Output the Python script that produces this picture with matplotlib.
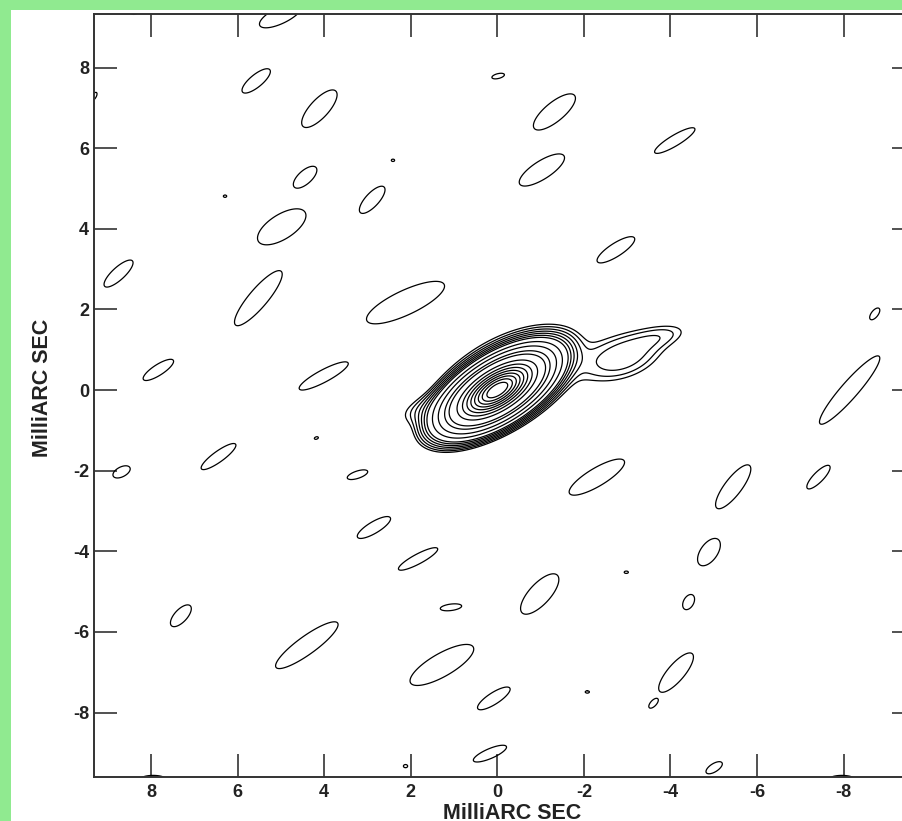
import numpy as np
import matplotlib
matplotlib.use("Agg")
import matplotlib.pyplot as plt
from matplotlib.patches import Rectangle

plt.rcParams["font.family"] = ["Liberation Sans", "DejaVu Sans"]

# ---- sidelobe blobs (single lowest contour): centre [mas], contour semi-axes [mas], screen angle [deg]
lobe_x = [5.00, 5.57, 4.11, -0.02, 4.44, 6.29, 2.41, 2.89, 4.98, 8.75, 5.52, 2.12, 7.83, 4.01,
          9.32, 8.40, -1.32, -4.10, -1.03, -2.74, -8.72, -8.14, -2.07, 4.18, 6.44, 8.68, 3.23,
          2.85, 1.83, 1.07, 7.31, 4.40, 1.28, 0.08, 0.17, 2.12, 7.95, -2.30, -5.45, -7.42,
          -4.89, -2.98, -0.98, -4.42, -4.13, -3.61, -2.08, -5.01, -7.96]
lobe_y = [9.30, 7.67, 6.98, 7.79, 5.28, 4.81, 5.70, 4.72, 4.05, 2.89, 2.28, 2.17, 0.50, 0.35,
          7.28, 9.36, 6.90, 6.19, 5.46, 3.48, 1.89, 0.00, 9.36, -1.19, -1.65, -2.03, -2.10,
          -3.41, -4.19, -5.39, -5.60, -6.33, -6.82, -7.65, -9.02, -9.33, -9.66, -2.16, -2.40, -2.16,
          -4.02, -4.52, -5.06, -5.26, -7.01, -7.77, -7.49, -9.37, -9.66]
lobe_a = [0.55, 0.42, 0.58, 0.15, 0.35, 0.04, 0.04, 0.42, 0.65, 0.45, 0.85, 1.00, 0.42, 0.65,
          0.12, 0.08, 0.62, 0.55, 0.62, 0.52, 0.17, 1.08, 0.10, 0.05, 0.50, 0.22, 0.25,
          0.45, 0.52, 0.25, 0.33, 0.90, 0.85, 0.45, 0.42, 0.05, 0.30, 0.75, 0.65, 0.38,
          0.38, 0.05, 0.62, 0.20, 0.60, 0.15, 0.05, 0.22, 0.30]
lobe_b = [0.20, 0.15, 0.22, 0.06, 0.16, 0.03, 0.03, 0.16, 0.30, 0.15, 0.22, 0.30, 0.13, 0.15,
          0.05, 0.04, 0.23, 0.13, 0.22, 0.16, 0.08, 0.20, 0.04, 0.03, 0.13, 0.12, 0.09,
          0.14, 0.12, 0.08, 0.15, 0.22, 0.28, 0.14, 0.12, 0.04, 0.10, 0.22, 0.20, 0.12,
          0.20, 0.03, 0.25, 0.12, 0.20, 0.07, 0.03, 0.10, 0.10]
lobe_pa = [28, 42, 50, 15, 45, 0, 0, 50, 35, 45, 52, 27, 35, 30,
           60, 0, 42, 33, 35, 35, 55, 51, 0, 20, 38, 30, 20,
           33, 30, 8, 50, 38, 32, 35, 25, 0, 0, 33, 55, 48,
           58, 0, 50, 65, 52, 50, 0, 35, 0]
LOBE_PEAK = 1.3

# ---- source components: core, extended halo, jet knot, jet tip, SW tail
src_x = [0.00, -0.30, -2.88, -3.80, 1.60]
src_y = [0.00, 0.35, 0.82, 1.35, -0.45]
src_sa = [0.60, 1.00, 0.65, 0.50, 0.50]
src_sb = [0.28, 0.60, 0.36, 0.20, 0.22]
src_pa = [35, 30, 20, 15, 20]
src_peak = [1000.0, 3.0, 2.7, 1.25, 1.5]

levels = [1, 1.41, 2, 2.83, 4, 5.66, 8, 16, 32, 64,
          100, 200, 300, 400, 500, 600, 700, 800, 900]

x_ticks = [8, 6, 4, 2, 0, -2, -4, -6, -8]
y_ticks = [-8, -6, -4, -2, 0, 2, 4, 6, 8]
x_tick_labels = ["8", "6", "4", "2", "0", "-2", "-4", "-6", "-8"]
y_tick_labels = ["-8", "-6", "-4", "-2", "0", "2", "4", "6", "8"]

# ---- build brightness map
gx = np.arange(-9.9, 9.6, 0.02)
gy = np.arange(-9.9, 9.6, 0.02)
X, Y = np.meshgrid(gx, gy)


def gauss(x0, y0, sa, sb, pa, peak):
    t = np.deg2rad(pa)
    dx = X - x0
    dy = Y - y0
    u = -dx * np.cos(t) + dy * np.sin(t)
    v = dx * np.sin(t) + dy * np.cos(t)
    return peak * np.exp(-0.5 * ((u / sa) ** 2 + (v / sb) ** 2))


Z_src = np.zeros_like(X)
for x0, y0, sa, sb, pa, pk in zip(src_x, src_y, src_sa, src_sb, src_pa, src_peak):
    Z_src += gauss(x0, y0, sa, sb, pa, pk)

k = np.sqrt(2 * np.log(LOBE_PEAK))
Z_lobe = np.zeros_like(X)
for x0, y0, a, b, pa in zip(lobe_x, lobe_y, lobe_a, lobe_b, lobe_pa):
    Z_lobe = np.maximum(Z_lobe, gauss(x0, y0, a / k, b / k, pa, LOBE_PEAK))

Z = np.maximum(Z_src, Z_lobe)

# ---- figure
fig = plt.figure(figsize=(9.02, 8.21), dpi=100)
fig.patch.set_facecolor("#90EA90")
panel = Rectangle((11 / 902, 0), 1.0, (821 - 10) / 821, transform=fig.transFigure,
                  facecolor="white", edgecolor="none", zorder=-10)
fig.add_artist(panel)

ax = fig.add_axes([94 / 902, 44 / 821, 821 / 902, 763 / 821])
ax.set_zorder(1)
ax.set_facecolor("white")
ax.contour(X, Y, Z, levels=levels, colors="black", linewidths=0.9)

ax.set_xlim(9.317, -9.65)
ax.set_ylim(-9.60, 9.33)
ax.set_xticks(x_ticks)
ax.set_xticklabels(x_tick_labels, fontweight="bold", fontsize=13, color="#222222")
ax.set_yticks(y_ticks)
ax.set_yticklabels(y_tick_labels, fontweight="bold", fontsize=13, color="#222222")
ax.tick_params(direction="in", length=16.5, width=1.1, top=True, right=True, color="#222222")
ax.tick_params(axis="x", pad=5)
ax.tick_params(axis="y", pad=3.5)
for s in ax.spines.values():
    s.set_linewidth(1.4)
    s.set_color("#333333")

fig.text(512 / 902, 1 - 819 / 821, "MilliARC SEC", ha="center", va="baseline",
         fontsize=15.5, fontweight="bold", color="#222222")
fig.text(42.5 / 902, 1 - 388 / 821, "MilliARC SEC", ha="center", va="center", rotation=90,
         fontsize=15.5, fontweight="bold", color="#222222")

fig.savefig("out.png", dpi=100, facecolor=fig.get_facecolor())
